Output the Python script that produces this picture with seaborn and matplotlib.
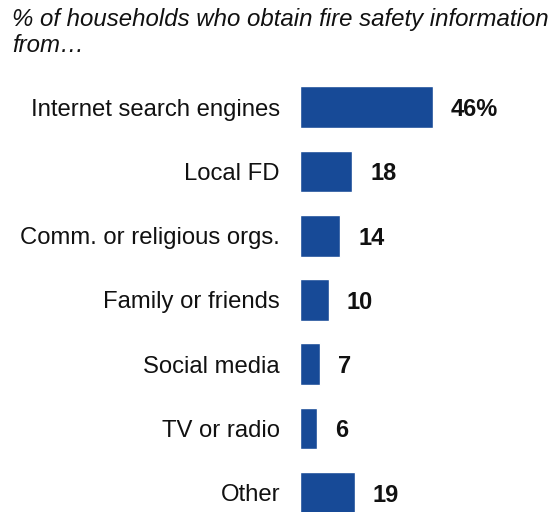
import matplotlib
matplotlib.use("Agg")
import matplotlib.pyplot as plt
import seaborn as sns
import pandas as pd

sources = ["Internet search engines", "Local FD", "Comm. or religious orgs.",
           "Family or friends", "Social media", "TV or radio", "Other"]
shares = [46, 18, 14, 10, 7, 6, 19]
value_labels = ["46%", "18", "14", "10", "7", "6", "19"]

title = "% of households who obtain fire safety information\nfrom\u2026"
bar_color = "#174A97"

sns.set_theme(style="white")
plt.rcParams["font.family"] = ["Liberation Sans", "DejaVu Sans"]

df = pd.DataFrame({"source": sources, "share": shares})

fig = plt.figure(figsize=(5.56, 5.12), dpi=100)
ax = fig.add_axes([300 / 556, 0, 256 / 556, (512 - 75) / 512])

sns.barplot(data=df, y="source", x="share", orient="h", color=bar_color,
            saturation=1, width=0.65, ax=ax)

ax.set_xlim(0, 256 / 2.89)
ax.set_ylim(6.3, -0.5)
ax.set_xlabel("")
ax.set_ylabel("")
ax.set_xticks([])
for s in ax.spines.values():
    s.set_visible(False)
ax.tick_params(axis="y", length=0, pad=14.4, labelsize=17.2, labelcolor="#111111")

labels = ax.bar_label(ax.containers[0], labels=value_labels, padding=13,
                      fontsize=17, fontweight="bold", color="#111111")
for t in labels:
    t.set_verticalalignment("center_baseline")

fig.text(12 / 556, 1 - 8 / 512, title, ha="left", va="top", fontsize=17.3,
         style="italic", color="#111111", linespacing=1.15)

fig.savefig("out.png", dpi=100)
